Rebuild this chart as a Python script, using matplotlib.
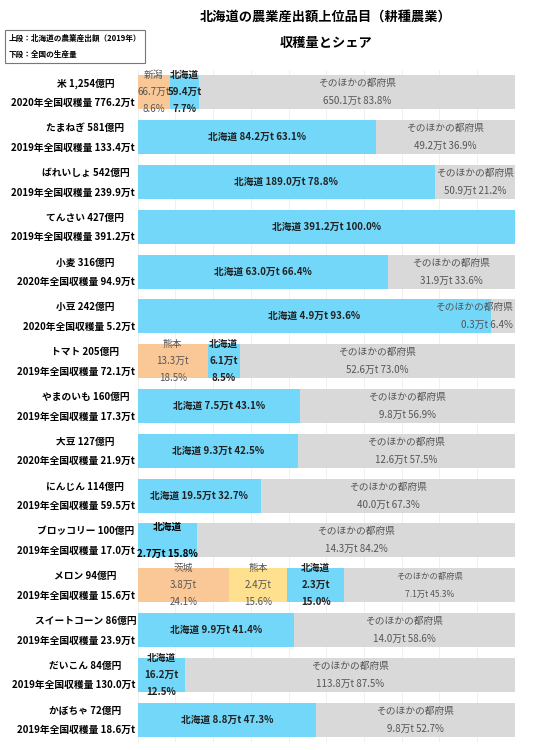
import matplotlib.pyplot as plt

plt.rcParams["font.family"] = ["Noto Sans CJK JP", "DejaVu Sans"]

items = ["米", "たまねぎ", "ばれいしょ", "てんさい", "小麦", "小豆", "トマト", "やまのいも",
         "大豆", "にんじん", "ブロッコリー", "メロン", "スイートコーン", "だいこん", "かぼちゃ"]
output_oku = ["1,254", "581", "542", "427", "316", "242", "205", "160",
              "127", "114", "100", "94", "86", "84", "72"]
years = [2020, 2019, 2019, 2019, 2020, 2020, 2019, 2019, 2020, 2019, 2019, 2019, 2019, 2019, 2019]
national = ["776.2", "133.4", "239.9", "391.2", "94.9", "5.2", "72.1", "17.3",
            "21.9", "59.5", "17.0", "15.6", "23.9", "130.0", "18.6"]

# prefectures ranked above Hokkaido: (name, tonnes, share)
rivals = [[("新潟", "66.7", 8.6)], [], [], [], [], [], [("熊本", "13.3", 18.5)], [],
          [], [], [], [("茨城", "3.8", 24.1), ("熊本", "2.4", 15.6)], [], [], []]
hk_tons = ["59.4", "84.2", "189.0", "391.2", "63.0", "4.9", "6.1", "7.5",
           "9.3", "19.5", "2.7", "2.3", "9.9", "16.2", "8.8"]
hk_share = [7.7, 63.1, 78.8, 100.0, 66.4, 93.6, 8.5, 43.1, 42.5, 32.7, 15.8, 15.0, 41.4, 12.5, 47.3]
rest_tons = ["650.1", "49.2", "50.9", None, "31.9", "0.3", "52.6", "9.8",
             "12.6", "40.0", "14.3", "7.1", "14.0", "113.8", "9.8"]
rest_share = [83.8, 36.9, 21.2, 0.0, 33.6, 6.4, 73.0, 56.9, 57.5, 67.3, 84.2, 45.3, 58.6, 87.5, 52.7]

C_HK = "#72D7F9"
C_REST = "#D9D9D9"
C_RIVAL = ["#FAC896", "#FEE08F"]
FS = 7

fig = plt.figure(figsize=(5.34, 7.5), dpi=100)
ax = fig.add_axes([0.258, 0.0107, 0.706, 0.896])
ax.set_xlim(0, 100)
ax.set_ylim(14.5, -0.5)
ax.set_xticks(range(0, 101, 10))
ax.grid(axis="x", color="#EEEEEE", lw=0.6)
ax.set_axisbelow(True)
ax.set_yticks([])
ax.tick_params(axis="x", length=0, labelbottom=False)
for s in ax.spines.values():
    s.set_visible(False)

H = 0.76


def stacked(x, y, name, tons, share, bold):
    w = "bold" if bold else "normal"
    col = "#222222" if bold else "#555555"
    ax.text(x, y - 0.38, name, ha="center", va="center", fontsize=FS, weight=w, color=col)
    ax.text(x, y, f"{tons}万t", ha="center", va="center", fontsize=FS, weight=w, color=col)
    ax.text(x, y + 0.38, f"{share:.1f}%", ha="center", va="center", fontsize=FS, weight=w, color=col)


for i in range(len(items)):
    left = 0.0
    for j, (name, tons, share) in enumerate(rivals[i]):
        ax.barh(i, share, left=left, height=H, color=C_RIVAL[j], lw=0)
        stacked(left + share / 2, i, name, tons, share, False)
        left += share
    ax.barh(i, hk_share[i], left=left, height=H, color=C_HK, lw=0)
    cx = left + hk_share[i] / 2
    if hk_share[i] < 20:
        if items[i] == "ブロッコリー":
            ax.text(cx, i - 0.3, "北海道", ha="center", va="center", fontsize=FS, weight="bold")
            ax.text(cx, i + 0.3, f"{hk_tons[i]}万t {hk_share[i]:.1f}%", ha="center",
                    va="center", fontsize=FS, weight="bold")
        else:
            stacked(cx, i, "北海道", hk_tons[i], hk_share[i], True)
    else:
        ax.text(cx, i, f"北海道 {hk_tons[i]}万t {hk_share[i]:.1f}%", ha="center",
                va="center", fontsize=FS, weight="bold", color="#222222")
    left += hk_share[i]
    if rest_share[i] > 0:
        ax.barh(i, rest_share[i], left=left, height=H, color=C_REST, lw=0)
        rx, ha = left + rest_share[i] / 2, "center"
        fs = 6 if len(rivals[i]) > 1 else FS
        if rest_share[i] < 10:
            rx, ha = 99.5, "right"
        ax.text(rx, i - 0.2, "そのほかの都府県", ha=ha, va="center", fontsize=fs, color="#555555")
        ax.text(rx, i + 0.2, f"{rest_tons[i]}万t {rest_share[i]:.1f}%", ha=ha,
                va="center", fontsize=fs, color="#555555")

    fig_y = 1 - (70 + 44.8 * (i + 0.5)) / 750
    fig.text(0.16, fig_y + 0.012, f"{items[i]} {output_oku[i]}億円", ha="center",
             va="center", fontsize=FS, weight="bold")
    fig.text(0.253, fig_y - 0.014, f"{years[i]}年全国収穫量 {national[i]}万t", ha="right",
             va="center", fontsize=FS, weight="bold")

fig.text(0.61, 0.978, "北海道の農業産出額上位品目（耕種農業）", ha="center", va="center",
         fontsize=9.5, weight="bold")
fig.text(0.61, 0.943, "収穫量とシェア", ha="center", va="center", fontsize=9.5, weight="bold")
fig.text(0.017, 0.938, "上段：北海道の農業産出額（2019年）\n下段：全国の生産量", ha="left",
         va="center", fontsize=5.5, weight="bold", linespacing=2.0,
         bbox=dict(boxstyle="square,pad=0.5", fc="white", ec="#777777", lw=0.8))

fig.savefig("out.png", dpi=100)
